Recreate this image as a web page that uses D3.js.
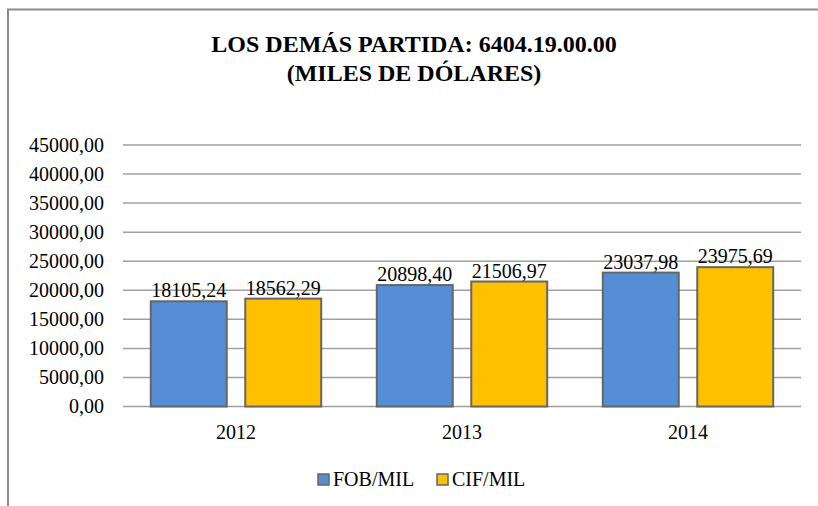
<!DOCTYPE html>
<html>
<head>
<meta charset="utf-8">
<script src="https://cdn.jsdelivr.net/npm/d3@7"></script>
<style>
  body { margin: 0; background: #fff; }
  svg { display: block; }
  svg text { font-family: "Liberation Serif", "Times New Roman", serif !important; fill: #000; }
</style>
</head>
<body>
<div id="chart"></div>
<script>
// chart data
var years = ["2012", "2013", "2014"];
var series = ["FOB/MIL", "CIF/MIL"];
var fobValues = [18105.24, 20898.40, 23037.98];
var cifValues = [18562.29, 21506.97, 23975.69];
var yTicks = [0, 5000, 10000, 15000, 20000, 25000, 30000, 35000, 40000, 45000];
var colors = ["#558ED5", "#FFC000"];

var width = 818, height = 506;
var margin = { top: 145, right: 17, bottom: 99.5, left: 123 };

var svg = d3.select("#chart").append("svg")
  .attr("width", width)
  .attr("height", height);

// outer frame (runs off the right/bottom like the original)
svg.append("rect")
  .attr("x", 8).attr("y", 9.5)
  .attr("width", 830).attr("height", 520)
  .attr("fill", "none")
  .attr("stroke", "#8c8c8c")
  .attr("stroke-width", 2);

// title
var title = svg.append("text")
  .attr("text-anchor", "middle")
  .attr("font-weight", "bold")
  .attr("font-size", 24);
title.append("tspan").attr("x", 414).attr("y", 52).text("LOS DEMÁS PARTIDA: 6404.19.00.00");
title.append("tspan").attr("x", 414).attr("y", 81).text("(MILES DE DÓLARES)");

var x = d3.scaleBand()
  .domain(years)
  .range([margin.left, width - margin.right])
  .padding(0);

var xSub = d3.scaleBand()
  .domain(series)
  .range([0, x.bandwidth()])
  .paddingInner(0.196)
  .paddingOuter(0.294);

var y = d3.scaleLinear()
  .domain([0, 45000])
  .range([height - margin.bottom, margin.top]);

var fmt = function(v) { return d3.format(".2f")(v).replace(".", ","); };

// gridlines
svg.append("g").selectAll("line")
  .data(yTicks)
  .enter().append("line")
  .attr("x1", margin.left)
  .attr("x2", width - margin.right)
  .attr("y1", function(d) { return y(d); })
  .attr("y2", function(d) { return y(d); })
  .attr("stroke", "#a0a0a0")
  .attr("stroke-width", 1.5);

// y axis labels
var yAxis = d3.axisLeft(y).tickValues(yTicks).tickFormat(fmt).tickSize(0).tickPadding(19);
var gy = svg.append("g")
  .attr("transform", "translate(" + margin.left + ",0)")
  .call(yAxis);
gy.select(".domain").remove();
gy.selectAll("text")
  .style("font-size", "20px");

// bars
var rows = years.map(function(yr, i) {
  return { year: yr, values: [
    { key: series[0], value: fobValues[i], color: colors[0] },
    { key: series[1], value: cifValues[i], color: colors[1] }
  ]};
});

var groups = svg.append("g").selectAll("g")
  .data(rows)
  .enter().append("g")
  .attr("transform", function(d) { return "translate(" + x(d.year) + ",0)"; });

groups.selectAll("rect")
  .data(function(d) { return d.values; })
  .enter().append("rect")
  .attr("x", function(d) { return xSub(d.key); })
  .attr("width", xSub.bandwidth())
  .attr("y", function(d) { return y(d.value); })
  .attr("height", function(d) { return y(0) - y(d.value); })
  .attr("fill", function(d) { return d.color; })
  .attr("stroke", "#666")
  .attr("stroke-width", 2);

groups.selectAll("text.val")
  .data(function(d) { return d.values; })
  .enter().append("text")
  .attr("class", "val")
  .attr("x", function(d) { return xSub(d.key) + xSub.bandwidth() / 2; })
  .attr("y", function(d) { return y(d.value) - 4; })
  .attr("text-anchor", "middle")
  .style("font-size", "20px")
  .text(function(d) { return fmt(d.value); });

// x axis labels
var xAxis = d3.axisBottom(x).tickSize(0).tickPadding(18);
var gx = svg.append("g")
  .attr("transform", "translate(0," + y(0) + ")")
  .call(xAxis);
gx.select(".domain").remove();
gx.selectAll("text")
  .style("font-size", "20px");

// legend
var legendX = [318, 437];
var legend = svg.append("g").selectAll("g")
  .data(series)
  .enter().append("g")
  .attr("transform", function(d, i) { return "translate(" + legendX[i] + ",474)"; });
legend.append("rect")
  .attr("width", 11).attr("height", 11)
  .attr("fill", function(d, i) { return colors[i]; })
  .attr("stroke", "#666")
  .attr("stroke-width", 1.5);
legend.append("text")
  .attr("x", 15).attr("y", 12)
  .style("font-size", "20px")
  .text(function(d) { return d; });
</script>
</body>
</html>
